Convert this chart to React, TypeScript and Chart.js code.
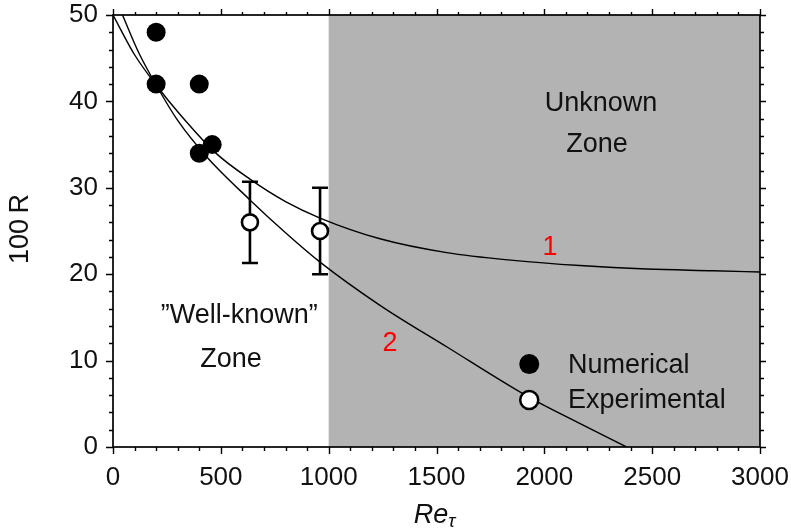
import React, { useEffect, useRef } from "react";
import { Chart, registerables } from "chart.js";

Chart.register(...registerables);

// ---- data ----
const numericalX = [200, 200, 400, 400, 460];
const numericalY = [48, 42, 42, 34, 35];

const experimentalX = [635, 960];
const experimentalY = [26.0, 25.0];
const experimentalLow = [21.3, 20.0];
const experimentalHigh = [30.7, 30.0];

const curve1X = [0, 100, 200, 300, 473, 635, 800, 960, 1238, 1547, 1856, 2165, 2474, 2783, 3000];
const curve1Y = [50, 45.4, 41.9, 38.8, 34.1, 31.0, 28.4, 26.5, 24.1, 22.5, 21.6, 21.0, 20.6, 20.4, 20.25];

const curve2X = [44, 120, 200, 300, 434, 635, 800, 960, 1238, 1547, 1926, 2150, 2381];
const curve2Y = [50, 45.6, 41.9, 37.8, 33.6, 28.6, 24.8, 21.4, 16.4, 11.6, 5.8, 2.9, 0];

const xTicks = [0, 500, 1000, 1500, 2000, 2500, 3000];
const yTicks = [0, 10, 20, 30, 40, 50];
const xMinorStep = 100;
const yMinorStep = 2;
const unknownZoneStart = 1000;

const seriesNames = ["Numerical", "Experimental"];

const FONT = '"Liberation Sans", Arial, sans-serif';

export default function App() {
  const ref = useRef<HTMLCanvasElement>(null);

  useEffect(() => {
    document.body.style.margin = "0";
    const canvas = ref.current;
    if (!canvas) return;

    const decor = {
      id: "decor",
      beforeDatasetsDraw(chart: any) {
        const { ctx, chartArea: a, scales } = chart;
        const x = scales.x;
        const y = scales.y;
        ctx.save();
        // grey "unknown" zone
        const gx = x.getPixelForValue(unknownZoneStart);
        ctx.fillStyle = "#b3b3b3";
        ctx.fillRect(gx, a.top, a.right - gx, a.bottom - a.top);
        // error bars
        ctx.strokeStyle = "#000";
        ctx.lineWidth = 2.6;
        experimentalX.forEach((v, i) => {
          const px = x.getPixelForValue(v);
          const lo = y.getPixelForValue(experimentalLow[i]);
          const hi = y.getPixelForValue(experimentalHigh[i]);
          ctx.beginPath();
          ctx.moveTo(px, lo);
          ctx.lineTo(px, hi);
          ctx.moveTo(px - 8, lo);
          ctx.lineTo(px + 8, lo);
          ctx.moveTo(px - 8, hi);
          ctx.lineTo(px + 8, hi);
          ctx.stroke();
        });
        ctx.restore();
      },
      afterDraw(chart: any) {
        const { ctx, chartArea: a, scales } = chart;
        const x = scales.x;
        const y = scales.y;
        ctx.save();
        // frame
        ctx.strokeStyle = "#000";
        ctx.lineWidth = 1.7;
        ctx.strokeRect(a.left, a.top, a.right - a.left, a.bottom - a.top);
        // ticks
        ctx.lineWidth = 1.4;
        ctx.beginPath();
        for (let v = x.min; v <= x.max + 1e-6; v += xMinorStep) {
          const px = Math.round(x.getPixelForValue(v)) + 0.5;
          const major = xTicks.includes(v);
          ctx.moveTo(px, a.bottom);
          ctx.lineTo(px, a.bottom + (major ? 7 : 4));
          ctx.moveTo(px, a.top);
          ctx.lineTo(px, a.top - (major ? 6 : 3));
        }
        for (let v = y.min; v <= y.max + 1e-6; v += yMinorStep) {
          const py = Math.round(y.getPixelForValue(v)) + 0.5;
          const major = yTicks.includes(v);
          ctx.moveTo(a.left, py);
          ctx.lineTo(a.left - (major ? 7 : 4), py);
          ctx.moveTo(a.right, py);
          ctx.lineTo(a.right + (major ? 6 : 4), py);
        }
        ctx.stroke();

        // annotations
        ctx.fillStyle = "#111";
        ctx.textAlign = "center";
        ctx.textBaseline = "middle";
        ctx.font = `27px ${FONT}`;
        const txt = (s: string, vx: number, vy: number) =>
          ctx.fillText(s, x.getPixelForValue(vx), y.getPixelForValue(vy) + 2);
        txt("Unknown", 2263, 40.0);
        txt("Zone", 2244, 35.2);
        txt("\u201DWell-known\u201D", 585, 15.4);
        txt("Zone", 547, 10.3);
        ctx.fillStyle = "#ff0000";
        txt("1", 2026, 23.3);
        txt("2", 1284, 12.15);

        // legend
        const lx = x.getPixelForValue(1930);
        const ly1 = y.getPixelForValue(9.6);
        const ly2 = y.getPixelForValue(5.45);
        ctx.fillStyle = "#000";
        ctx.beginPath();
        ctx.arc(lx, ly1, 10, 0, Math.PI * 2);
        ctx.fill();
        ctx.beginPath();
        ctx.arc(lx, ly2, 9, 0, Math.PI * 2);
        ctx.fillStyle = "#fff";
        ctx.fill();
        ctx.lineWidth = 2.5;
        ctx.strokeStyle = "#000";
        ctx.stroke();
        ctx.fillStyle = "#111";
        ctx.textAlign = "left";
        ctx.font = `27px ${FONT}`;
        const tx = x.getPixelForValue(2110);
        ctx.fillText(seriesNames[0], tx, ly1 + 1);
        ctx.fillText(seriesNames[1], tx, ly2 + 1);

        // y axis title
        ctx.save();
        ctx.translate(21, (a.top + a.bottom) / 2 - 2);
        ctx.rotate(-Math.PI / 2);
        ctx.textAlign = "center";
        ctx.font = `27px ${FONT}`;
        ctx.fillText("100\u2009R", 0, 0);
        ctx.restore();

        // x axis title  Re_tau
        ctx.font = `italic 27px ${FONT}`;
        const w1 = ctx.measureText("Re").width;
        ctx.font = `italic 19px ${FONT}`;
        const w2 = ctx.measureText("\u03C4").width;
        const cx = (a.left + a.right) / 2 - 2;
        const sx = cx - (w1 + w2) / 2;
        ctx.textAlign = "left";
        ctx.textBaseline = "alphabetic";
        ctx.font = `italic 27px ${FONT}`;
        ctx.fillText("Re", sx, 523);
        ctx.font = `italic 19px ${FONT}`;
        ctx.fillText("\u03C4", sx + w1, 527);
        ctx.restore();
      },
    };

    const zeroPad = (s: any) => {
      s.paddingTop = 0;
      s.paddingBottom = 0;
      s.paddingLeft = 0;
      s.paddingRight = 0;
    };

    const chart = new Chart(canvas, {
      type: "scatter",
      data: {
        datasets: [
          {
            label: seriesNames[0],
            data: numericalX.map((v, i) => ({ x: v, y: numericalY[i] })),
            pointRadius: 9.5,
            pointBackgroundColor: "#000",
            pointBorderWidth: 0,
            order: 0,
          },
          {
            label: seriesNames[1],
            data: experimentalX.map((v, i) => ({ x: v, y: experimentalY[i] })),
            pointRadius: 8,
            pointBackgroundColor: "#fff",
            pointBorderColor: "#000",
            pointBorderWidth: 2.6,
            order: 0,
          },
          {
            label: "1",
            type: "line",
            data: curve1X.map((v, i) => ({ x: v, y: curve1Y[i] })),
            borderColor: "#000",
            borderWidth: 1.4,
            pointRadius: 0,
            fill: false,
            cubicInterpolationMode: "monotone",
            order: 2,
          },
          {
            label: "2",
            type: "line",
            data: curve2X.map((v, i) => ({ x: v, y: curve2Y[i] })),
            borderColor: "#000",
            borderWidth: 1.4,
            pointRadius: 0,
            fill: false,
            cubicInterpolationMode: "monotone",
            order: 2,
          },
        ] as any,
      },
      options: {
        responsive: false,
        animation: false,
        layout: { padding: { top: 15, right: 31, left: 0, bottom: 0 } },
        plugins: {
          legend: { display: false },
          tooltip: { enabled: false },
        },
        scales: {
          x: {
            type: "linear",
            min: 0,
            max: 3000,
            afterBuildTicks: (s: any) => {
              s.ticks = xTicks.map((v) => ({ value: v }));
            },
            afterFit: (s: any) => {
              s.height = 81;
              zeroPad(s);
            },
            grid: { display: false, drawTicks: false },
            border: { display: false },
            ticks: {
              color: "#111",
              font: { family: FONT, size: 26 },
              padding: 15,
              maxRotation: 0,
              autoSkip: false,
              callback: (v: any) => String(v),
            },
          },
          y: {
            type: "linear",
            min: 0,
            max: 50,
            afterBuildTicks: (s: any) => {
              s.ticks = yTicks.map((v) => ({ value: v }));
            },
            afterFit: (s: any) => {
              s.width = 113;
              zeroPad(s);
            },
            grid: { display: false, drawTicks: false },
            border: { display: false },
            ticks: {
              color: "#111",
              font: { family: FONT, size: 26 },
              padding: 15,
              autoSkip: false,
              callback: (v: any) => String(v),
            },
          },
        },
      },
      plugins: [decor],
    });

    return () => chart.destroy();
  }, []);

  return (
    <div style={{ width: 791, height: 528 }}>
      <canvas ref={ref} width={791} height={528} style={{ display: "block" }} />
    </div>
  );
}
